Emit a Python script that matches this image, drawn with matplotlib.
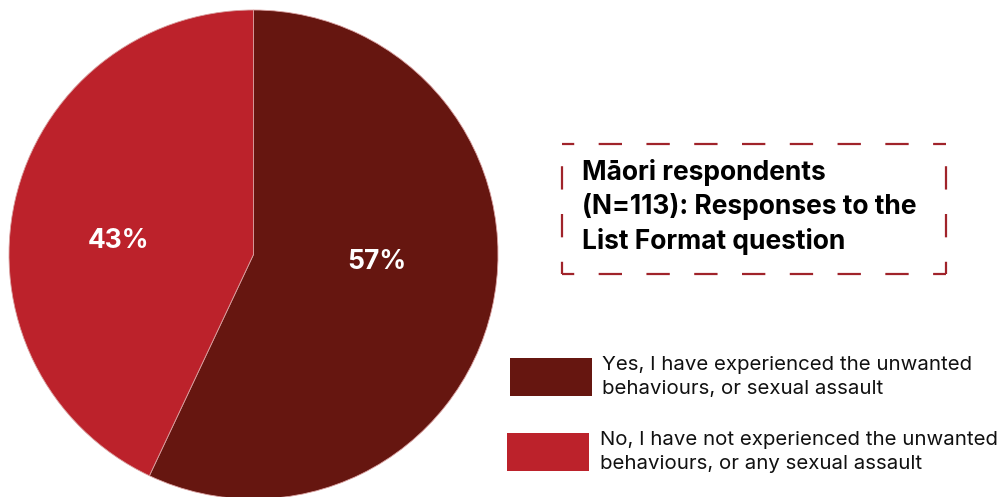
import matplotlib.pyplot as plt
from matplotlib.patches import Rectangle
from matplotlib.lines import Line2D

# Data
categories = ["Yes, I have experienced the unwanted\nbehaviours, or sexual assault",
              "No, I have not experienced the unwanted\nbehaviours, or any sexual assault"]
shares = [57, 43]
pct_labels = ["57%", "43%"]
colors = ["#661610", "#BC222B"]
title_text = "Māori respondents\n(N=113): Responses to the\nList Format question"

W, H = 1005, 497
fig = plt.figure(figsize=(W / 100, H / 100), dpi=100)

# pie axes: centre (253.5, 254.5) px from top-left, radius 244.5 px
cx, cy, r = 253.5, 254.5, 244.5
ax = fig.add_axes([(cx - r) / W, (H - cy - r) / H, 2 * r / W, 2 * r / H])
ax.pie(shares, colors=colors, startangle=90, counterclock=False,
       radius=1, wedgeprops=dict(edgecolor="#d9a0a0", linewidth=0.6))
ax.set_xlim(-1, 1)
ax.set_ylim(-1, 1)
ax.set_aspect("auto")
ax.axis("off")

# percentage labels (positions in pie units)
label_pos = [(0.505, -0.031), (-0.554, 0.055)]
for txt, (x, y) in zip(pct_labels, label_pos):
    ax.text(x, y, txt, color="white", fontsize=19, fontweight="bold",
            family="Inter", ha="center", va="center")

# dashed box with title
box_col = "#A0232A"
x0, x1 = 562 / W, 946 / W
y0, y1 = 1 - 274 / H, 1 - 144 / H
lw = 1.6
for xs, ys in [((x0, x1), (y1, y1)), ((x0, x1), (y0, y0)),
               ((x0, x0), (y0, y1)), ((x1, x1), (y0, y1))]:
    fig.add_artist(Line2D(xs, ys, transform=fig.transFigure, color=box_col,
                          lw=lw, linestyle=(5, (10.5, 11))))

fig.text(582 / W, 1 - 207 / H, title_text, fontsize=19, fontweight="bold",
         family="Inter", color="black", ha="left", va="center", linespacing=1.35)

# legend
leg_boxes = [(510, 358, 82, 38), (507, 433, 82, 38)]
leg_text_x = [602, 600]
for (bx, by, bw, bh), col, lab, tx in zip(leg_boxes, colors, categories, leg_text_x):
    fig.add_artist(Rectangle((bx / W, 1 - (by + bh) / H), bw / W, bh / H,
                             transform=fig.transFigure, facecolor=col, edgecolor="none"))
    fig.text(tx / W, 1 - (by + bh / 2) / H, lab, fontsize=14.7, family="Inter",
             color="#111111", ha="left", va="center", linespacing=1.45)

fig.savefig("out.png", dpi=100)
